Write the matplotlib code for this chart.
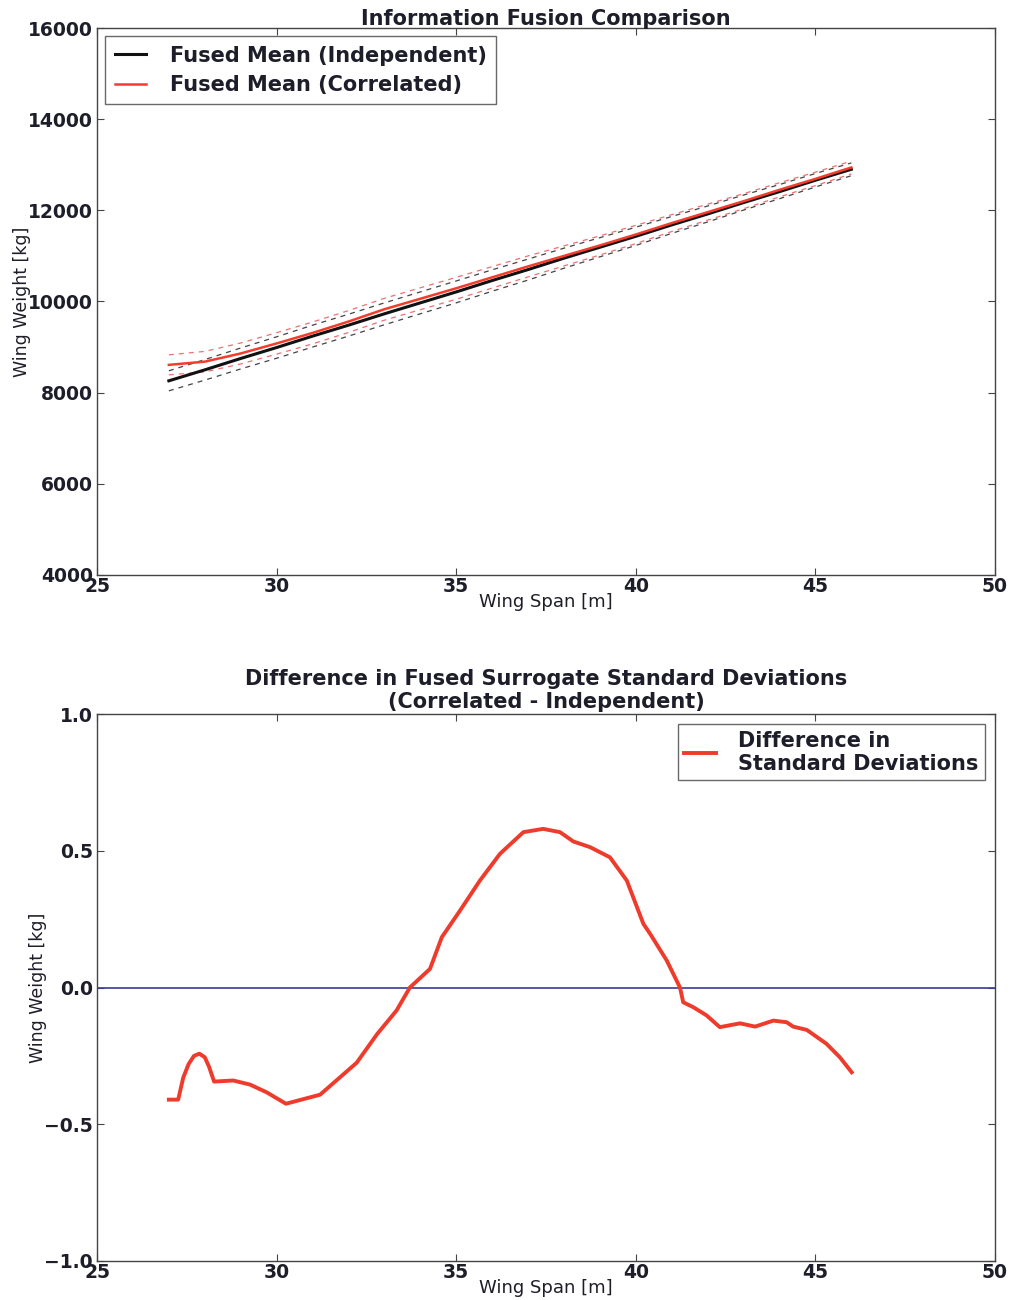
import matplotlib
matplotlib.use("Agg")
import matplotlib.pyplot as plt
import numpy as np

# ---------------- data ----------------
span = [27, 28, 29, 30, 31, 32, 33, 34, 35, 36, 37, 38, 39, 40, 41, 42, 43, 44, 45, 46]
mean_indep = [8260, 8500, 8750, 8990, 9240, 9480, 9730, 9970, 10210, 10460,
              10700, 10950, 11190, 11430, 11680, 11920, 12170, 12410, 12660, 12900]
mean_corr = [8610, 8680, 8860, 9080, 9310, 9560, 9830, 10060, 10290, 10530,
             10770, 11000, 11230, 11470, 11720, 11960, 12200, 12450, 12690, 12940]
band_indep = [220, 225, 230, 235, 240, 240, 240, 240, 240, 235,
              230, 220, 210, 200, 185, 175, 165, 155, 148, 140]
band_corr = [220, 225, 230, 235, 240, 240, 240, 240, 240, 235,
             230, 220, 210, 200, 185, 175, 165, 155, 148, 140]

diff_x = [27.0, 27.26, 27.40, 27.55, 27.70, 27.85, 28.00, 28.12, 28.26, 28.79,
          29.26, 29.72, 30.26, 31.21, 32.23, 32.80, 33.34, 33.71, 34.27, 34.60,
          35.11, 35.66, 36.22, 36.87, 37.42, 37.89, 38.26, 38.73, 39.28, 39.75,
          40.21, 40.40, 40.86, 41.23, 41.32, 41.60, 41.97, 42.34, 42.90, 43.32,
          43.83, 44.20, 44.38, 44.76, 45.31, 45.68, 46.01]
diff_y = [-0.41, -0.41, -0.33, -0.28, -0.25, -0.242, -0.255, -0.29, -0.344, -0.340,
          -0.355, -0.383, -0.425, -0.392, -0.275, -0.17, -0.084, 0.0, 0.068, 0.184,
          0.282, 0.391, 0.489, 0.568, 0.580, 0.568, 0.534, 0.513, 0.476, 0.391,
          0.233, 0.196, 0.099, 0.0, -0.054, -0.072, -0.102, -0.145, -0.131, -0.143,
          -0.121, -0.127, -0.143, -0.155, -0.206, -0.255, -0.310]

x_ticks = [25, 30, 35, 40, 45, 50]
y_ticks_top = [4000, 6000, 8000, 10000, 12000, 14000, 16000]
y_ticks_bot = [-1.0, -0.5, 0.0, 0.5, 1.0]
y_ticklabels_bot = ['\u22121.0', '\u22120.5', '0.0', '0.5', '1.0']

# ---------------- style ----------------
plt.rcParams['font.family'] = ['DejaVu Sans']
plt.rcParams['axes.linewidth'] = 1.0
plt.rcParams['axes.edgecolor'] = '#444444'

TXT = '#1e1e2a'
RED = '#ee3b2b'
fig = plt.figure(figsize=(10.12, 13.0), dpi=100)
fig.patch.set_facecolor('white')

L, W, H = 97 / 1012, 898 / 1012, 547 / 1300
ax1 = fig.add_axes([L, 1 - 575 / 1300, W, H])
ax2 = fig.add_axes([L, 1 - 1261 / 1300, W, H])


def style(ax, yt, ylabelpad):
    ax.set_xlim(25, 50)
    ax.set_xticks(x_ticks)
    ax.set_yticks(yt)
    ax.set_ylim(yt[0], yt[-1])
    ax.tick_params(direction='in', top=True, right=True, length=5, width=0.8,
                   labelsize=13.5, color='#444444')
    ax.tick_params(axis='x', pad=1.5)
    ax.tick_params(axis='y', pad=3)
    for lab in ax.get_xticklabels() + ax.get_yticklabels():
        lab.set_fontweight('bold')
        lab.set_color(TXT)
    ax.set_xlabel('Wing Span [m]', fontsize=13, labelpad=-2, color=TXT)
    ax.set_ylabel('Wing Weight [kg]', fontsize=12.5, labelpad=ylabelpad, color=TXT)


def style_legend(leg):
    leg.get_frame().set_edgecolor('#444444')
    leg.get_frame().set_linewidth(1.0)
    for t in leg.get_texts():
        t.set_color(TXT)


# ---------------- top ----------------
s = np.array(span)
mi, mc = np.array(mean_indep), np.array(mean_corr)
bi, bc = np.array(band_indep), np.array(band_corr)
ax1.plot(s, mi + bi, ls='--', color='#444444', lw=0.9, dashes=(4, 4))
ax1.plot(s, mi - bi, ls='--', color='#444444', lw=0.9, dashes=(4, 4))
ax1.plot(s, mc + bc, ls='--', color='#f07070', lw=0.9, dashes=(4, 4))
ax1.plot(s, mc - bc, ls='--', color='#f07070', lw=0.9, dashes=(4, 4))
ax1.plot(s, mi, color='#111111', lw=2.2, label='Fused Mean (Independent)')
ax1.plot(s, mc, color='#f43c2c', lw=1.8, label='Fused Mean (Correlated)')
style(ax1, y_ticks_top, -2)
ax1.set_title('Information Fusion Comparison', fontsize=15, fontweight='bold',
              pad=2, color=TXT)
leg = ax1.legend(loc='upper left', prop={'weight': 'bold', 'size': 15},
                 fancybox=False, handlelength=1.5, handletextpad=1.15,
                 borderpad=0.45, labelspacing=0.45, borderaxespad=0.4)
style_legend(leg)

# ---------------- bottom ----------------
ax2.axhline(0.0, color='#3a3a9a', lw=1.2)
ax2.plot(diff_x, diff_y, color=RED, lw=2.8, label='Difference in\nStandard Deviations')
style(ax2, y_ticks_bot, -2)
ax2.set_yticklabels(y_ticklabels_bot, fontweight='bold', color=TXT)
ax2.set_title('Difference in Fused Surrogate Standard Deviations\n(Correlated - Independent)',
              fontsize=15, fontweight='bold', pad=4, linespacing=1.2, color=TXT)
leg2 = ax2.legend(loc='upper right', prop={'weight': 'bold', 'size': 15},
                  fancybox=False, handlelength=1.55, handletextpad=1.05,
                  borderpad=0.3, labelspacing=0.3, borderaxespad=0.5)
style_legend(leg2)

fig.savefig('out.png', dpi=100, facecolor='white')
